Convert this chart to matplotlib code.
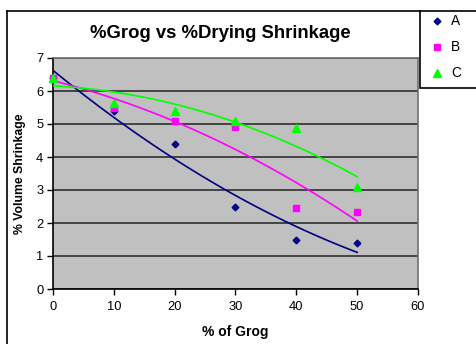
import numpy as np
import matplotlib
matplotlib.use("Agg")
import matplotlib.pyplot as plt
from matplotlib.lines import Line2D
from matplotlib.patches import Rectangle

plt.rcParams['font.family'] = ['Liberation Sans', 'DejaVu Sans']

grog = [0, 10, 20, 30, 40, 50]
shrink_a = [6.4, 5.4, 4.4, 2.5, 1.5, 1.4]
shrink_b = [6.4, 5.5, 5.1, 4.9, 2.45, 2.32]
shrink_c = [6.4, 5.65, 5.4, 5.1, 4.87, 3.08]
series_names = ['A', 'B', 'C']
colors = ['#000080', '#FF00FF', '#00FF00']
markers = ['D', 's', '^']
msizes = [3.4, 4.0, 5.6]

fig = plt.figure(figsize=(4.77, 3.44), dpi=100)
ax = fig.add_axes([53/477, 1-289/344, 365/477, 231/344])
ax.set_facecolor('#C0C0C0')

# polynomial trendlines (order 2) plus the raw points
xs = np.linspace(0, 50, 100)
for ys, c, m, ms in zip([shrink_a, shrink_b, shrink_c], colors, markers, msizes):
    p = np.polyfit(grog, ys, 2)
    ax.plot(xs, np.polyval(p, xs), color=c, lw=1.2, zorder=3)
    ax.plot(grog, ys, ls='none', marker=m, color=c, ms=ms, zorder=4, clip_on=False)

ax.set_xlim(0, 60)
ax.set_ylim(0, 7)
ax.set_xticks(range(0, 61, 10))
ax.set_yticks(range(0, 8))
ax.grid(axis='y', color='#3a3a3a', lw=1.3)
ax.set_axisbelow(True)
ax.tick_params(labelsize=9.3, length=4, width=1, direction='out', pad=3)
ax.tick_params(axis='x', pad=5)
for s in ['left', 'bottom']:
    ax.spines[s].set_color('black')
    ax.spines[s].set_linewidth(1.2)
for s in ['top', 'right']:
    ax.spines[s].set_color('#707070')
    ax.spines[s].set_linewidth(1.2)

ax.set_xlabel('% of Grog', fontsize=10, fontweight='bold', labelpad=8)
ax.set_ylabel('% Volume Shrinkage', fontsize=8.8, fontweight='bold', labelpad=7)
fig.text(220/477, 1-34/344, '%Grog vs %Drying Shrinkage', fontsize=13.3,
         fontweight='bold', ha='center', va='center')

# chart outline
fig.add_artist(Line2D([7/477, 7/477], [0, 1-11/344], color='black', lw=1.2))
fig.add_artist(Line2D([7/477, 420/477], [1-11/344, 1-11/344], color='black', lw=1.2))

# legend box on the right
fig.add_artist(Rectangle((420/477, 1-88/344), 70/477, 77/344, transform=fig.transFigure,
                         facecolor='white', edgecolor='black', lw=1.2, clip_on=False))
for i, (n, c, m, ms) in enumerate(zip(series_names, colors, markers, msizes)):
    yy = 1-(21+26*i)/344
    fig.add_artist(Line2D([437/477], [yy], ls='none', marker=m, color=c, ms=ms))
    fig.text(451/477, yy, n, fontsize=9.8, va='center', ha='left')

fig.savefig('out.png', dpi=100)
